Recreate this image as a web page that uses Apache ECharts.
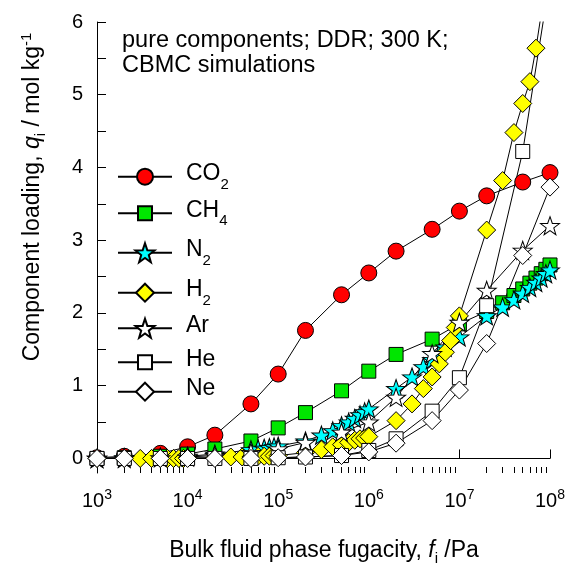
<!DOCTYPE html>
<html>
<head>
<meta charset="utf-8">
<script src="https://cdn.jsdelivr.net/npm/echarts@6/dist/echarts.min.js"></script>
<style>html,body{margin:0;padding:0;background:#fff;}#c{width:569px;height:567px;}</style>
</head>
<body>
<div id="c"></div>
<script>
// ---------------- data ----------------
const seriesNames = ['CO2', 'CH4', 'N2', 'H2', 'Ar', 'He', 'Ne'];
const legendMain = ['CO', 'CH', 'N', 'H', 'Ar', 'He', 'Ne'];
const legendSub = ['2', '4', '2', '2', '', '', ''];

const fCO2 = [1e3, 2e3, 5e3, 1e4, 2e4, 5e4, 1e5, 2e5, 5e5, 1e6, 2e6, 5e6, 1e7, 2e7, 5e7, 1e8];
const qCO2 = [0.01, 0.03, 0.07, 0.16, 0.32, 0.75, 1.16, 1.76, 2.25, 2.55, 2.85, 3.15, 3.40, 3.61, 3.80, 3.93];

const fCH4 = [1e3, 2e3, 5e3, 1e4, 2e4, 5e4, 1e5, 2e5, 5e5, 1e6, 2e6, 5e6, 1e7, 2e7, 3e7, 4e7, 5e7, 6e7, 7e7, 8e7, 9e7, 1e8];
const qCH4 = [0, 0.01, 0.03, 0.06, 0.13, 0.24, 0.42, 0.63, 0.93, 1.20, 1.43, 1.64, 1.85, 2.02, 2.14, 2.24, 2.33, 2.41, 2.48, 2.54, 2.60, 2.66];

const fN2 = [1e3, 2e3, 5e3, 1e4, 2e4, 5e4, 6e4, 7e4, 8e4, 9e4, 1e5, 2e5, 3e5, 4e5, 5e5, 6e5, 7e5, 8e5, 9e5, 1e6,
             2e6, 3e6, 4e6, 5e6, 6e6, 7e6, 1e7, 2e7, 3e7, 4e7, 5e7, 6e7, 7e7, 8e7, 9e7, 1e8];
const qN2 = [0, 0.01, 0.02, 0.03, 0.06, 0.12, 0.13, 0.14, 0.15, 0.16, 0.17, 0.24, 0.32, 0.38, 0.45, 0.50, 0.55, 0.60, 0.64, 0.68,
             0.96, 1.12, 1.26, 1.36, 1.45, 1.53, 1.67, 1.96, 2.08, 2.18, 2.27, 2.35, 2.42, 2.48, 2.54, 2.59];

const fH2 = [1e3, 2e3, 3e3, 4e3, 5e3, 6e3, 7e3, 8e3, 9e3, 1e4, 2e4, 3e4, 4e4, 5e4, 6e4, 7e4, 8e4, 9e4, 1e5,
             2e5, 3e5, 4e5, 5e5, 6e5, 7e5, 8e5, 9e5, 1e6, 2e6, 3e6, 4e6, 5e6, 6e6, 7e6, 8e6, 9e6, 1e7,
             2e7, 3e7, 4e7, 5e7, 6e7, 7e7, 1e8];
const qH2 = [0, 0, 0, 0, 0, 0, 0, 0, 0, 0.01, 0.01, 0.02, 0.02, 0.02, 0.03, 0.03, 0.03, 0.04, 0.04,
             0.08, 0.12, 0.16, 0.19, 0.22, 0.25, 0.27, 0.28, 0.30, 0.52, 0.75, 0.96, 1.12, 1.30, 1.46, 1.62, 1.80, 1.96,
             3.14, 3.82, 4.48, 4.88, 5.18, 5.64, 6.90];

const fAr = [1e3, 2e3, 5e3, 1e4, 2e4, 5e4, 1e5, 2e5, 5e5, 1e6, 2e6, 5e6, 1e7, 2e7, 5e7, 1e8];
const qAr = [0, 0, 0.01, 0.02, 0.04, 0.08, 0.13, 0.22, 0.36, 0.50, 0.84, 1.44, 1.87, 2.31, 2.86, 3.20];

const fHe = [1e3, 2e3, 5e3, 1e4, 2e4, 5e4, 1e5, 2e5, 5e5, 1e6, 2e6, 5e6, 1e7, 2e7, 5e7, 1e8];
const qHe = [0, 0, 0, 0, 0, 0, 0.01, 0.02, 0.04, 0.11, 0.27, 0.65, 1.11, 2.10, 4.22, 6.60];

const fNe = [1e3, 2e3, 5e3, 1e4, 2e4, 5e4, 1e5, 2e5, 5e5, 1e6, 2e6, 5e6, 1e7, 2e7, 5e7, 1e8];
const qNe = [0, 0, 0, 0, 0, 0, 0.01, 0.02, 0.04, 0.09, 0.21, 0.52, 0.94, 1.58, 2.79, 3.73];

const yTickValues = [0, 0.5, 1, 1.5, 2, 2.5, 3, 3.5, 4, 4.5, 5, 5.5, 6];
const yLabelValues = [0, 1, 2, 3, 4, 5, 6];
const xDecades = [3, 4, 5, 6, 7];
const xMinorMultipliers = [2, 3, 4, 5, 6, 7, 8, 9];

// ---------------- styling ----------------
const FF = "'Liberation Sans', Arial, sans-serif";
const minorTicks = [];
xDecades.forEach(d => xMinorMultipliers.forEach(m => minorTicks.push(d + Math.log10(m))));

function starPath() {
  let d = '';
  for (let k = 0; k < 10; k++) {
    const r = k % 2 ? 0.4 : 1;
    const a = -Math.PI / 2 + k * Math.PI / 5;
    d += (k ? 'L' : 'M') + (r * Math.cos(a)).toFixed(4) + ' ' + (r * Math.sin(a)).toFixed(4) + ' ';
  }
  return 'path://' + d + 'Z';
}
const STAR = starPath();

const styles = {
  CO2: {symbol: 'circle', size: 16, color: '#ff0000'},
  CH4: {symbol: 'rect', size: 14, color: '#00e600'},
  N2:  {symbol: STAR, size: [19, 18], color: '#00ffff'},
  H2:  {symbol: 'diamond', size: 18, color: '#ffff00'},
  Ar:  {symbol: STAR, size: [19, 18], color: '#ffffff'},
  He:  {symbol: 'rect', size: 14, color: '#ffffff'},
  Ne:  {symbol: 'diamond', size: 18, color: '#ffffff'}
};
const dataMap = {
  CO2: [fCO2, qCO2], CH4: [fCH4, qCH4], N2: [fN2, qN2], H2: [fH2, qH2],
  Ar: [fAr, qAr], He: [fHe, qHe], Ne: [fNe, qNe]
};
const legendCenters = [176.7, 213.3, 252.7, 292.7, 328.3, 362.3, 391.7];

const series = seriesNames.map(name => {
  const st = styles[name];
  const [f, q] = dataMap[name];
  return {
    type: 'line', name: name, xAxisIndex: 0, yAxisIndex: 0,
    data: f.map((x, i) => [x, q[i]]),
    symbol: st.symbol, symbolSize: st.size, showAllSymbol: true,
    lineStyle: {color: '#000', width: 1},
    itemStyle: {color: st.color, borderColor: '#000', borderWidth: 1},
    emphasis: {disabled: true}, clip: true, animation: false
  };
});

const legendRich = {
  n: {fontSize: 23, fontFamily: FF, color: '#000', lineHeight: 29, verticalAlign: 'top', padding: [0, 0, 0, 9]},
  s: {fontSize: 15, fontFamily: FF, color: '#000', lineHeight: 1, verticalAlign: 'top', padding: [15, 0, 0, 0]}
};
const legends = seriesNames.map((name, i) => {
  const st = styles[name];
  const sz = Array.isArray(st.size) ? st.size[0] : st.size;
  return {
    data: [name], left: 117, top: legendCenters[i] - 14.5, padding: 0,
    orient: 'vertical', itemWidth: 54, itemHeight: sz / 0.8,
    selectedMode: false,
    formatter: () => '{n|' + legendMain[i] + '}' + (legendSub[i] ? '{s|' + legendSub[i] + '}' : ''),
    textStyle: {rich: legendRich}
  };
});

const titleRich = {
  n: {fontSize: 23, fontFamily: FF, fill: '#000', lineHeight: 26, verticalAlign: 'top', padding: [3, 0, 0, 0]},
  i: {fontSize: 23, fontFamily: FF, fontStyle: 'italic', fill: '#000', lineHeight: 26, verticalAlign: 'top', padding: [3, 0, 0, 0]},
  s: {fontSize: 15, fontFamily: FF, fill: '#000', lineHeight: 1, verticalAlign: 'top', padding: [15, 0, 0, 0]},
  p: {fontSize: 15, fontFamily: FF, fill: '#000', lineHeight: 1, verticalAlign: 'top', padding: [1, 0, 0, 0]}
};

const chart = echarts.init(document.getElementById('c'), null, {renderer: 'canvas'});
chart.setOption({
  animation: false,
  backgroundColor: '#fff',
  grid: {left: 97, right: 19, top: 22, bottom: 94, containLabel: false},
  xAxis: [{
    type: 'log', logBase: 10, min: 1e3, max: 1e8, position: 'bottom',
    axisLine: {show: true, lineStyle: {color: '#000', width: 1}},
    axisTick: {show: true, inside: true, length: 9, lineStyle: {color: '#000'}},
    splitLine: {show: false},
    axisLabel: {
      margin: 15, color: '#000',
      formatter: v => '{b|10}{s|' + Math.round(Math.log10(v)) + '}',
      rich: {
        b: {fontSize: 20, fontFamily: FF, color: '#000', lineHeight: 23, verticalAlign: 'top', padding: [3, 0, 0, 0]},
        s: {fontSize: 14, fontFamily: FF, color: '#000', lineHeight: 1, verticalAlign: 'top', padding: [0, 0, 0, 0]}
      }
    }
  }, {
    type: 'value', min: 3, max: 8, position: 'bottom',
    axisLine: {show: false},
    axisTick: {show: true, inside: true, length: 6, customValues: minorTicks, lineStyle: {color: '#000'}},
    axisLabel: {show: false},
    splitLine: {show: false}
  }],
  yAxis: [{
    type: 'value', min: -0.2, max: 6,
    axisLine: {show: true, lineStyle: {color: '#000', width: 1}},
    axisTick: {show: true, inside: true, length: 9, customValues: yTickValues, lineStyle: {color: '#000'}},
    axisLabel: {customValues: yLabelValues, fontSize: 20, fontFamily: FF, color: '#000', margin: 14},
    splitLine: {show: false}
  }],
  legend: legends,
  series: series,
  graphic: [
    {type: 'text', x: 122, y: 41, silent: true,
     style: {text: 'pure components; DDR; 300 K;', font: '23.5px ' + FF, fill: '#000', textAlign: 'left', textVerticalAlign: 'middle'}},
    {type: 'text', x: 122, y: 66, silent: true,
     style: {text: 'CBMC simulations', font: '23.5px ' + FF, fill: '#000', textAlign: 'left', textVerticalAlign: 'middle'}},
    {type: 'text', x: 324, y: 549, silent: true,
     style: {text: '{n|Bulk fluid phase fugacity, }{i|f}{s|i}{n| /Pa}', rich: titleRich, textAlign: 'center', textVerticalAlign: 'middle'}},
    {type: 'text', x: 31.5, y: 197, rotation: Math.PI / 2, silent: true,
     style: {text: '{n|Component loading, }{i|q}{s|i}{n| / mol kg}{p|-1}', rich: titleRich, textAlign: 'center', textVerticalAlign: 'middle'}}
  ]
});
</script>
</body>
</html>
